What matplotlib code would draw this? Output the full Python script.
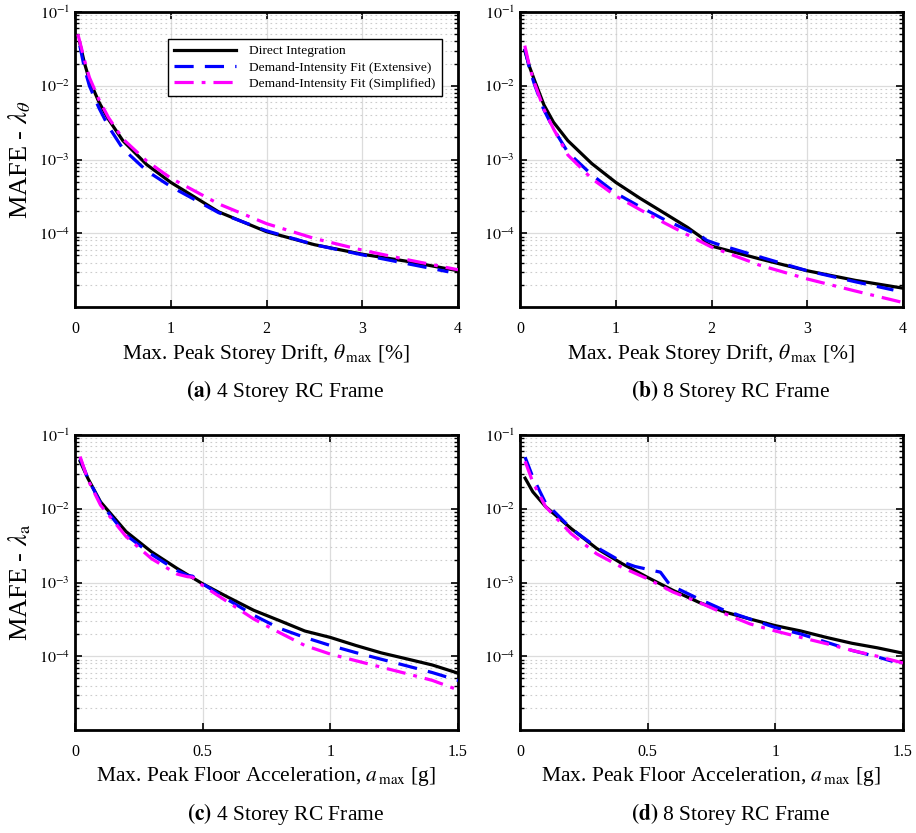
import numpy as np
import matplotlib.pyplot as plt
from matplotlib.ticker import LogLocator, NullFormatter

plt.rcParams['font.family'] = ['Liberation Serif', 'DejaVu Serif']
plt.rcParams['mathtext.fontset'] = 'stix'

# (a) 4 storey - drift
xa_di = [0.05, 0.1, 0.15, 0.25, 0.35, 0.5, 0.75, 1, 1.5, 2, 2.5, 3, 3.5, 4]
ya_di = [3.8e-2, 2.0e-2, 1.2e-2, 6.0e-3, 3.5e-3, 1.8e-3, 8.5e-4, 4.9e-4, 1.95e-4, 1.05e-4, 7.0e-5, 5.2e-5, 4.1e-5, 3.1e-5]
xa_ext = [0.05, 0.1, 0.15, 0.25, 0.35, 0.5, 0.75, 1, 1.5, 2, 2.5, 3, 3.5, 3.9]
ya_ext = [3.5e-2, 1.7e-2, 1.0e-2, 5.0e-3, 2.8e-3, 1.4e-3, 7.0e-4, 4.3e-4, 1.9e-4, 1.08e-4, 7.0e-5, 5.1e-5, 3.8e-5, 3.0e-5]
xa_sim = [0.03, 0.1, 0.15, 0.25, 0.35, 0.5, 0.75, 1, 1.5, 2, 2.5, 3, 3.5, 4]
ya_sim = [5.0e-2, 2.2e-2, 1.3e-2, 6.5e-3, 3.7e-3, 1.9e-3, 9.5e-4, 5.6e-4, 2.5e-4, 1.35e-4, 8.5e-5, 5.9e-5, 4.3e-5, 3.2e-5]

# (b) 8 storey - drift
xb_di = [0.05, 0.1, 0.15, 0.25, 0.35, 0.5, 0.75, 1, 1.25, 1.5, 1.75, 1.9, 1.95, 2.0, 2.5, 3, 3.5, 4]
yb_di = [3.0e-2, 1.8e-2, 1.2e-2, 5.5e-3, 3.2e-3, 1.8e-3, 8.8e-4, 4.9e-4, 3.0e-4, 1.9e-4, 1.2e-4, 8.7e-5, 7.3e-5, 6.7e-5, 4.5e-5, 3.1e-5, 2.3e-5, 1.8e-5]
xb_ext = [0.05, 0.1, 0.15, 0.25, 0.35, 0.5, 0.75, 1, 1.25, 1.5, 1.75, 1.9, 1.95, 2.05, 2.5, 3, 3.5, 3.9]
yb_ext = [3.2e-2, 1.7e-2, 1.05e-2, 4.7e-3, 2.6e-3, 1.25e-3, 6.2e-4, 3.5e-4, 2.3e-4, 1.55e-4, 1.1e-4, 9.0e-5, 8.0e-5, 7.2e-5, 4.8e-5, 3.1e-5, 2.2e-5, 1.7e-5]
xb_sim = [0.05, 0.1, 0.15, 0.25, 0.35, 0.5, 0.75, 1, 1.25, 1.5, 1.75, 2, 2.5, 3, 3.5, 4]
yb_sim = [3.5e-2, 1.8e-2, 1.1e-2, 4.8e-3, 2.6e-3, 1.15e-3, 5.5e-4, 3.2e-4, 2.1e-4, 1.4e-4, 9.5e-5, 6.5e-5, 3.7e-5, 2.4e-5, 1.65e-5, 1.15e-5]

# (c) 4 storey - floor acceleration
xc_di = [0.02, 0.05, 0.1, 0.2, 0.3, 0.4, 0.5, 0.6, 0.7, 0.8, 0.9, 1.0, 1.1, 1.2, 1.3, 1.4, 1.5]
yc_di = [4.4e-2, 2.6e-2, 1.24e-2, 4.9e-3, 2.6e-3, 1.55e-3, 9.6e-4, 6.3e-4, 4.2e-4, 3.05e-4, 2.2e-4, 1.8e-4, 1.4e-4, 1.11e-4, 9.2e-5, 7.6e-5, 5.9e-5]
xc_ext = [0.02, 0.05, 0.1, 0.2, 0.3, 0.4, 0.44, 0.46, 0.48, 0.5, 0.6, 0.7, 0.8, 0.9, 1.0, 1.1, 1.2, 1.3, 1.4, 1.5]
yc_ext = [4.8e-2, 2.6e-2, 1.2e-2, 4.4e-3, 2.4e-3, 1.45e-3, 1.25e-3, 1.22e-3, 1.08e-3, 9.6e-4, 5.8e-4, 3.6e-4, 2.4e-4, 1.8e-4, 1.4e-4, 1.12e-4, 9.1e-5, 7.4e-5, 6.0e-5, 4.7e-5]
xc_sim = [0.02, 0.05, 0.1, 0.2, 0.3, 0.4, 0.44, 0.46, 0.48, 0.5, 0.6, 0.7, 0.8, 0.9, 1.0, 1.1, 1.2, 1.3, 1.4, 1.5]
yc_sim = [5.1e-2, 2.5e-2, 1.12e-2, 4.2e-3, 2.1e-3, 1.3e-3, 1.2e-3, 1.18e-3, 1.05e-3, 9.1e-4, 5.4e-4, 3.2e-4, 2.1e-4, 1.4e-4, 1.07e-4, 8.7e-5, 7.1e-5, 5.8e-5, 4.7e-5, 3.5e-5]

# (d) 8 storey - floor acceleration
xd_di = [0.02, 0.05, 0.1, 0.2, 0.3, 0.4, 0.5, 0.6, 0.7, 0.8, 0.9, 1.0, 1.1, 1.2, 1.3, 1.4, 1.5]
yd_di = [2.6e-2, 1.7e-2, 1.07e-2, 5.4e-3, 2.9e-3, 1.8e-3, 1.17e-3, 7.8e-4, 5.4e-4, 4.0e-4, 3.2e-4, 2.6e-4, 2.2e-4, 1.8e-4, 1.5e-4, 1.3e-4, 1.1e-4]
xd_ext = [0.02, 0.05, 0.1, 0.2, 0.3, 0.4, 0.45, 0.55, 0.58, 0.6, 0.7, 0.8, 0.9, 1.0, 1.1, 1.2, 1.3, 1.4, 1.46]
yd_ext = [5.0e-2, 2.7e-2, 1.2e-2, 5.4e-3, 3.0e-3, 1.9e-3, 1.65e-3, 1.38e-3, 1.0e-3, 8.8e-4, 6.0e-4, 4.2e-4, 3.2e-4, 2.45e-4, 2.0e-4, 1.55e-4, 1.2e-4, 9.8e-5, 8.5e-5]
xd_sim = [0.02, 0.05, 0.1, 0.2, 0.3, 0.4, 0.5, 0.6, 0.7, 0.8, 0.9, 1.0, 1.1, 1.2, 1.3, 1.4, 1.5]
yd_sim = [4.4e-2, 2.3e-2, 1.07e-2, 4.6e-3, 2.45e-3, 1.6e-3, 1.12e-3, 7.4e-4, 5.4e-4, 3.8e-4, 2.75e-4, 2.2e-4, 1.8e-4, 1.48e-4, 1.2e-4, 1.0e-4, 8.1e-5]

labels = ['Direct Integration', 'Demand-Intensity Fit (Extensive)', 'Demand-Intensity Fit (Simplified)']
captions = ['(a)', '(b)', '(c)', '(d)']
frames = ['4 Storey RC Frame', '8 Storey RC Frame', '4 Storey RC Frame', '8 Storey RC Frame']

panels = [
    (xa_di, ya_di, xa_ext, ya_ext, xa_sim, ya_sim),
    (xb_di, yb_di, xb_ext, yb_ext, xb_sim, yb_sim),
    (xc_di, yc_di, xc_ext, yc_ext, xc_sim, yc_sim),
    (xd_di, yd_di, xd_ext, yd_ext, xd_sim, yd_sim),
]

fig = plt.figure(figsize=(9.16, 8.33), dpi=100)
W, H = 916, 833
boxes = [(75, 12), (520, 12), (75, 435), (520, 435)]
aw, ah = 383, 295

for i, (box, data) in enumerate(zip(boxes, panels)):
    x0, y0 = box
    ax = fig.add_axes([x0 / W, 1 - (y0 + ah) / H, aw / W, ah / H])
    x1, y1, x2, y2, x3, y3 = data
    ax.semilogy(x1, y1, color='k', lw=2.3, label=labels[0], zorder=3)
    ax.semilogy(x2, y2, color='b', lw=2.3, ls=(0, (6, 3.5)), label=labels[1], zorder=4)
    ax.semilogy(x3, y3, color='magenta', lw=2.3, ls=(0, (6, 2.5, 1.2, 2.5)), label=labels[2], zorder=5)

    drift = i < 2
    if drift:
        ax.set_xlim(0, 4)
        ax.set_xticks([0, 1, 2, 3, 4])
        ax.set_xticklabels(['0', '1', '2', '3', '4'])
        ax.set_xlabel(r'Max. Peak Storey Drift, $\theta_{\,\rm max}$ [%]', fontsize=15.5, labelpad=4)
    else:
        ax.set_xlim(0, 1.5)
        ax.set_xticks([0, 0.5, 1, 1.5])
        ax.set_xticklabels(['0', '0.5', '1', '1.5'])
        ax.set_xlabel(r'Max. Peak Floor Acceleration, $a_{\,\rm max}$ [g]', fontsize=15.5, labelpad=4)
    ax.set_ylim(1e-5, 1e-1)
    ax.set_yticks([1e-4, 1e-3, 1e-2, 1e-1])
    ax.set_yticklabels([r'$10^{-4}$', r'$10^{-3}$', r'$10^{-2}$', r'$10^{-1}$'])
    ax.yaxis.set_minor_locator(LogLocator(base=10, subs=np.arange(2, 10)))
    ax.yaxis.set_minor_formatter(NullFormatter())

    ax.grid(True, which='major', color='#dcdcdc', lw=0.9, ls='-')
    ax.grid(True, which='minor', axis='y', color='#cccccc', lw=0.8, ls=(0, (1.5, 3)))
    ax.set_axisbelow(True)
    ax.tick_params(which='both', direction='in', top=True, right=True, labelsize=11.5)
    ax.tick_params(which='major', length=5, width=1.2)
    ax.tick_params(which='minor', length=3, width=1.0)
    ax.tick_params(axis='x', pad=10)
    for s in ax.spines.values():
        s.set_linewidth(2.0)

    if i == 0:
        ax.set_ylabel(r'MAFE - $\lambda_{\theta}$', fontsize=19, labelpad=4)
    elif i == 2:
        ax.set_ylabel(r'MAFE - $\lambda_{\rm a}$', fontsize=19, labelpad=4)

    if i == 0:
        leg = ax.legend(loc='upper left', bbox_to_anchor=(86 / aw, 1 - 20 / ah), fontsize=9.7,
                        handlelength=4.6, fancybox=False, framealpha=1,
                        edgecolor='k', borderpad=0.45, labelspacing=0.3, handletextpad=1.0)
        leg.get_frame().set_linewidth(1.0)

    fig.text((x0 + aw / 2 + 19) / W, 1 - (y0 + ah + 84) / H,
             r'$\mathbf{' + captions[i] + '}$ ' + frames[i],
             ha='center', va='center', fontsize=15.5)

fig.savefig('out.png', dpi=100)
